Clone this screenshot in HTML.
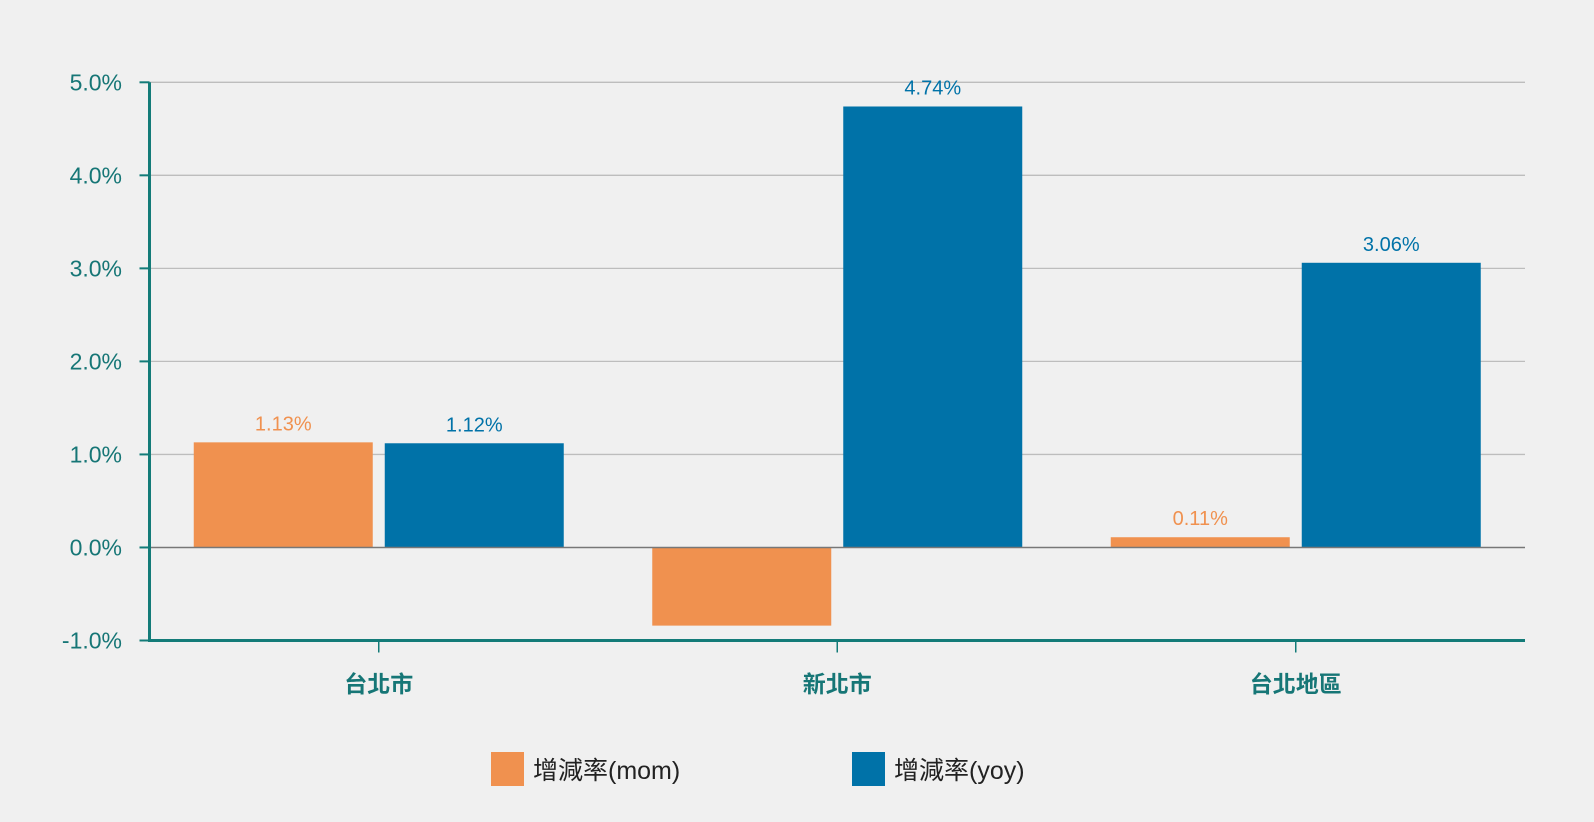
<!DOCTYPE html>
<html><head><meta charset="utf-8"><style>
body{margin:0;background:#f0f0f0;}
svg{display:block;font-family:"Liberation Sans","DejaVu Sans","Noto Sans CJK TC",sans-serif;}
</style></head><body>
<svg id="c" width="1594" height="822"></svg>
<script>
const categories=["台北市","新北市","台北地區"];
const momValues=[1.13,-0.84,0.11];
const yoyValues=[1.12,4.74,3.06];
const yTicks=[-1,0,1,2,3,4,5];
const tickLabels=["-1.0%","0.0%","1.0%","2.0%","3.0%","4.0%","5.0%"];
const seriesNames=["增減率(mom)","增減率(yoy)"];
const NS="http://www.w3.org/2000/svg";
const svg=document.getElementById('c');
const X0=149.5,X1=1525,Y0=640.5,Y1=82.3,vmin=-1,vmax=5;
const y=v=>Y0-(v-vmin)/(vmax-vmin)*(Y0-Y1);
const band=(X1-X0)/categories.length;
const cx=i=>X0+band*(i+0.5);
function el(t,a,txt){const e=document.createElementNS(NS,t);for(const k in a)e.setAttribute(k,a[k]);if(txt!=null)e.textContent=txt;svg.appendChild(e);return e;}
yTicks.forEach((t,i)=>{
  if(t!==vmin&&t!==0){const g=el('line',{x1:X0,x2:X1,y1:y(t),y2:y(t),stroke:'#bdbdbd','stroke-width':1.3});
  
  }
  const tk=el('line',{x1:X0-10,x2:X0,y1:y(t),y2:y(t),stroke:'#137b78','stroke-width':2});
  
  
  const l=el('text',{x:122,y:y(t)+8,'text-anchor':'end','font-size':23,fill:'#167676'},tickLabels[i]);
  
  
});
const bw=179,gap=12;
const series=[[momValues,'#f0914f'],[yoyValues,'#0072a8']];
categories.forEach((c,i)=>{
  series.forEach(([vals,col],s)=>{
    const v=vals[i];
    const x=cx(i)-bw-gap/2+s*(bw+gap);
    const top=Math.min(y(v),y(0)),h=Math.abs(y(v)-y(0));
    const r=el('rect',{x:x,y:top,width:bw,height:h,fill:col});
    
    
    if(v>=0){
      const t=el('text',{x:x+bw/2,y:y(v)-12,'text-anchor':'middle','font-size':20,fill:col},v.toFixed(2)+'%');
      
      
    }
  });
  const tk=el('line',{x1:cx(i),x2:cx(i),y1:Y0,y2:Y0+12,stroke:'#137b78','stroke-width':1.5});
  
  
  const lb=el('text',{x:cx(i),y:692,'text-anchor':'middle','font-size':23,'font-weight':'bold',fill:'#167676'},c);
  
  
});
const z=el('line',{x1:X0,x2:X1,y1:y(0),y2:y(0),stroke:'#777','stroke-width':1.5});


const ya=el('line',{x1:X0,x2:X0,y1:Y1,y2:Y0+1.5,stroke:'#137b78','stroke-width':3});


const xa=el('line',{x1:X0,x2:X1,y1:Y0,y2:Y0,stroke:'#137b78','stroke-width':3});


const lx=[491,852];
seriesNames.forEach((n,s)=>{
  const r=el('rect',{x:lx[s],y:752,width:33,height:34,fill:series[s][1]});
  
  
  const t=el('text',{x:lx[s]+42,y:779,'font-size':25,fill:'#222'},n);
  
  
});
</script>
</body></html>
